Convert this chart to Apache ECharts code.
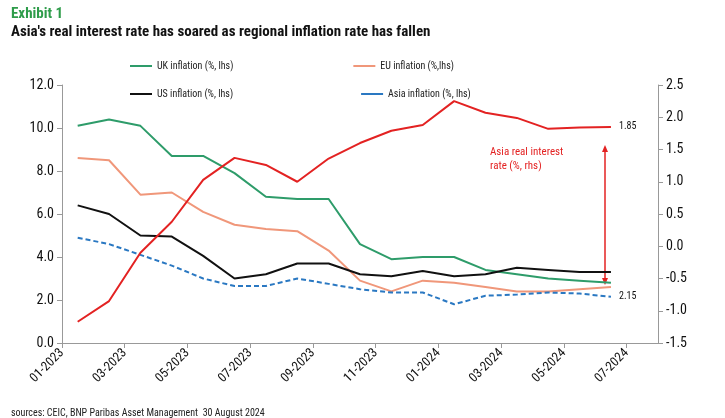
<!DOCTYPE html>
<html><head><meta charset="utf-8">
<script src="https://cdn.jsdelivr.net/npm/echarts@6/dist/echarts.min.js"></script>
<style>body{margin:0}#main{width:725px;height:418px}</style>
</head><body><div id="main"></div>
<script>
var months = ['01-2023','02-2023','03-2023','04-2023','05-2023','06-2023','07-2023','08-2023','09-2023','10-2023','11-2023','12-2023','01-2024','02-2024','03-2024','04-2024','05-2024','06-2024','07-2024'];
var ukInfl   = [10.1,10.4,10.1,8.7,8.7,7.9,6.8,6.7,6.7,4.6,3.9,4.0,4.0,3.4,3.2,3.0,2.9,2.8];
var euInfl   = [8.6,8.5,6.9,7.0,6.1,5.5,5.3,5.2,4.3,2.9,2.4,2.9,2.8,2.6,2.4,2.4,2.5,2.6];
var usInfl   = [6.4,6.0,5.0,4.95,4.05,3.0,3.2,3.7,3.7,3.2,3.1,3.35,3.1,3.2,3.5,3.4,3.3,3.3];
var asiaInfl = [4.9,4.6,4.1,3.6,3.0,2.65,2.65,3.0,2.75,2.5,2.35,2.35,1.8,2.2,2.25,2.35,2.3,2.15];
var asiaReal = [-1.17,-0.85,-0.10,0.38,1.03,1.37,1.26,1.0,1.36,1.6,1.79,1.88,2.25,2.07,1.99,1.82,1.84,1.85];

var font = "'Liberation Sans Narrow','Roboto Condensed','Liberation Sans',sans-serif";
function pts(arr){ return arr.map(function(v,i){ return [i+0.5, v]; }); }
var tickVals = [0,2,4,6,8,10,12,14,16,18];

var myChart = echarts.init(document.getElementById('main'));
myChart.setOption({
	animation: false,
	textStyle: { fontFamily: font },
	title: [
		{ text: 'Exhibit 1', left: 6, top: 2, textStyle: { color: '#2e9c4a', fontSize: 15, fontWeight: 'bold', fontFamily: font } },
		{ text: "Asia's real interest rate has soared as regional inflation rate has fallen", left: 6, top: 20, textStyle: { color: '#111', fontSize: 15, fontWeight: 'bold', fontFamily: font } },
		{ text: 'sources: CEIC, BNP Paribas Asset Management  30 August 2024', left: 6, top: 403, textStyle: { color: '#222', fontSize: 10, fontWeight: 'normal', fontFamily: font } }
	],
	legend: [
		{ left: 125, top: 56, itemWidth: 22, itemHeight: 2, icon: 'rect', itemGap: 120, textStyle: { fontSize: 10, color: '#222' },
		  data: ['UK inflation (%, lhs)', 'EU inflation (%,lhs)'] },
		{ left: 125, top: 84, itemWidth: 22, itemHeight: 2, icon: 'rect', itemGap: 128, textStyle: { fontSize: 10, color: '#222' },
		  data: ['US inflation (%, lhs)', 'Asia inflation (%, lhs)'] }
	],
	grid: { left: 62, right: 67, top: 85, bottom: 75 },
	xAxis: {
		type: 'value', min: 0, max: 19,
		splitLine: { show: false },
		axisLine: { onZero: false, lineStyle: { color: '#999' } },
		axisTick: { customValues: tickVals, length: 5, lineStyle: { color: '#999' } },
		axisLabel: { customValues: tickVals, rotate: 45, fontSize: 13, color: '#111', margin: 8,
			formatter: function(v){ return months[v] || ''; } }
	},
	yAxis: [
		{ type: 'value', min: 0, max: 12, interval: 2, position: 'left',
		  splitLine: { show: false },
		  axisLine: { show: true, lineStyle: { color: '#999' } },
		  axisTick: { show: true, length: 5 },
		  axisLabel: { fontSize: 14, color: '#111', formatter: function(v){ return v.toFixed(1); } } },
		{ type: 'value', min: -1.5, max: 2.5, interval: 0.5, position: 'right',
		  splitLine: { show: false },
		  axisLine: { show: true, lineStyle: { color: '#999' } },
		  axisTick: { show: true, length: 5 },
		  axisLabel: { fontSize: 14, color: '#111', formatter: function(v){ return v.toFixed(1); } } }
	],
	series: [
		{ name: 'UK inflation (%, lhs)', type: 'line', data: pts(ukInfl), symbol: 'none', color: '#2e9c6a', lineStyle: { width: 2 } },
		{ name: 'EU inflation (%,lhs)', type: 'line', data: pts(euInfl), symbol: 'none', color: '#f0977a', lineStyle: { width: 2 } },
		{ name: 'US inflation (%, lhs)', type: 'line', data: pts(usInfl), symbol: 'none', color: '#111', lineStyle: { width: 2 } },
		{ name: 'Asia inflation (%, lhs)', type: 'line', data: pts(asiaInfl), symbol: 'none', color: '#2a78c2', lineStyle: { width: 2, type: [5, 3] },
		  endLabel: { show: true, formatter: '2.15', fontSize: 10, color: '#111', distance: 8 } },
		{ name: 'Asia real', type: 'line', yAxisIndex: 1, data: pts(asiaReal), symbol: 'none', color: '#e32222', lineStyle: { width: 2 },
		  endLabel: { show: true, formatter: '1.85', fontSize: 10, color: '#111', distance: 8 } }
	],
	graphic: [
		{ type: 'text', left: 490, top: 145, style: { text: 'Asia real interest\nrate (%, rhs)', fill: '#e32222', font: '11px ' + font, lineHeight: 14 } },
		{ type: 'line', shape: { x1: 605, y1: 150, x2: 605, y2: 280 }, style: { stroke: '#e32222', lineWidth: 1.5 } },
		{ type: 'polygon', shape: { points: [[602,152],[608,152],[605,145]] }, style: { fill: '#e32222' } },
		{ type: 'polygon', shape: { points: [[602,278],[608,278],[605,285]] }, style: { fill: '#e32222' } }
	]
});
</script></body></html>
